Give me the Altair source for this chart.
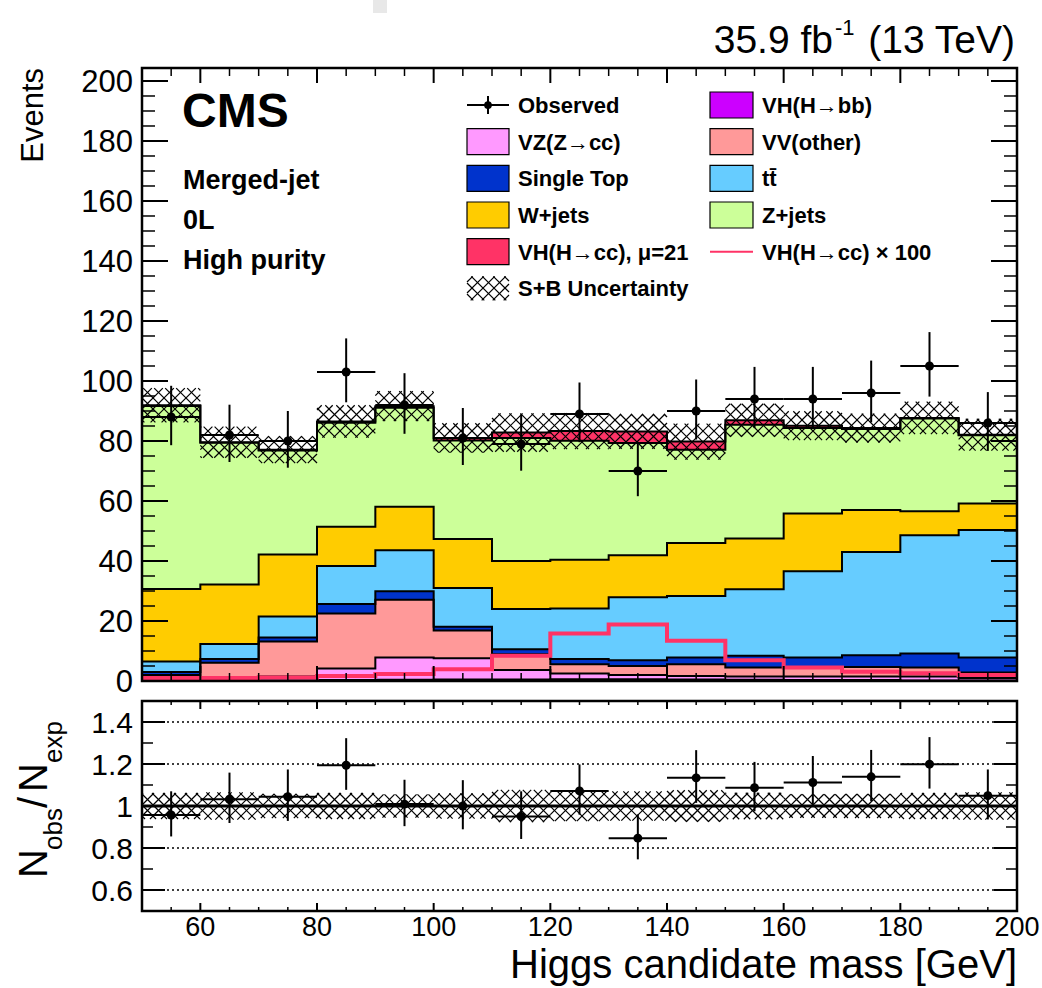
import altair as alt
import numpy as np
import pandas as pd

# ------------------------------------------------------------------ data
bin_edges = [50, 60, 70, 80, 90, 100, 110, 120, 130, 140, 150, 160, 170, 180, 190, 200]

comp_names = ["VH(H→bb)", "VZ(Z→cc)", "VV(other)", "Single Top", "tt̄",
              "W+jets", "Z+jets", "VH(H→cc), μ=21"]
comp_colors = ["#cc00ff", "#ff99ff", "#ff9999", "#0033cc", "#66ccff",
               "#ffcc00", "#ccff99", "#ff3366"]

vh_bb      = [0.1, 0.1, 0.2, 0.3, 0.4, 0.5, 0.5, 0.6, 0.6, 0.5, 0.4, 0.3, 0.3, 0.2, 0.2]
vz_cc      = [0.4, 0.5, 1.3, 3.9, 7.4, 7.1, 3.2, 1.9, 1.4, 1.2, 1.1, 1.2, 1.2, 1.3, 0.8]
vv_other   = [1.5, 5.5, 11.7, 18.3, 19.3, 9.2, 5.2, 3.1, 3.0, 3.9, 3.0, 3.0, 3.2, 3.0, 1.8]
single_top = [1.0, 1.2, 1.3, 3.2, 2.8, 1.3, 1.7, 1.7, 1.9, 2.2, 3.9, 3.3, 3.9, 4.7, 5.0]
ttbar      = [3.5, 5.0, 7.0, 12.6, 13.7, 12.9, 13.4, 16.9, 21.0, 20.5, 22.2, 28.8, 34.4, 39.4, 42.5]
w_jets     = [24.2, 19.9, 20.7, 13.1, 14.5, 16.3, 16.0, 16.2, 14.0, 17.7, 16.9, 19.2, 14.0, 8.0, 8.9]
z_jets     = [61.0, 47.2, 34.6, 34.7, 33.0, 32.9, 41.0, 39.7, 37.4, 31.1, 37.9, 28.5, 27.0, 30.9, 22.7]
vh_cc_mu21 = [0.2, 0.2, 0.3, 0.4, 0.5, 0.8, 1.8, 3.2, 3.9, 2.7, 1.5, 0.8, 0.3, 0.2, 0.2]
comp_values = [vh_bb, vz_cc, vv_other, single_top, ttbar, w_jets, z_jets, vh_cc_mu21]

vh_cc_x100 = [1.0, 1.0, 1.2, 1.7, 2.3, 3.9, 8.4, 15.8, 18.8, 13.4, 6.9, 4.5, 3.1, 2.6, 2.0]

observed   = [88, 82, 80, 103, 92, 81, 79, 89, 70, 90, 94, 94, 96, 105, 86]
obs_err_up = [10.4, 10.1, 10.0, 11.2, 10.6, 10.0, 9.9, 10.5, 9.4, 10.5, 10.7, 10.7, 10.8, 11.3, 10.3]
obs_err_dn = [9.4, 9.0, 8.9, 10.1, 9.6, 9.0, 8.9, 9.4, 8.4, 9.5, 9.7, 9.7, 9.8, 10.2, 9.3]
unc_main   = [5.7, 5.2, 4.5, 5.4, 5.0, 4.9, 6.4, 6.0, 5.8, 6.0, 5.5, 4.8, 4.8, 5.4, 5.3]

ratio        = [0.957, 1.032, 1.044, 1.194, 1.009, 1.000, 0.950, 1.072, 0.847, 1.134,
                1.087, 1.112, 1.139, 1.199, 1.049]
ratio_err_up = [0.113, 0.127, 0.130, 0.129, 0.116, 0.123, 0.120, 0.126, 0.113, 0.132,
                0.123, 0.126, 0.128, 0.129, 0.125]
ratio_err_dn = [0.102, 0.113, 0.115, 0.117, 0.105, 0.111, 0.107, 0.113, 0.101, 0.119,
                0.112, 0.114, 0.116, 0.116, 0.113]
unc_ratio    = [0.062, 0.065, 0.058, 0.062, 0.055, 0.060, 0.077, 0.072, 0.070, 0.075,
                0.063, 0.056, 0.057, 0.062, 0.065]

y_ticks_main = [0, 20, 40, 60, 80, 100, 120, 140, 160, 180, 200]
y_ticks_ratio = [0.6, 0.8, 1.0, 1.2, 1.4]
y_labels_ratio = ["0.6", "0.8", "1", "1.2", "1.4"]
y_minor_ratio = [0.7, 0.9, 1.1, 1.3]
ratio_grid = [0.6, 0.8, 1.2, 1.4]
x_ticks = [60, 80, 100, 120, 140, 160, 180, 200]

legend_col1 = ["Observed", "VZ(Z→cc)", "Single Top", "W+jets", "VH(H→cc), μ=21", "S+B Uncertainty"]
legend_col1_colors = [None, "#ff99ff", "#0033cc", "#ffcc00", "#ff3366", None]
legend_col2 = ["VH(H→bb)", "VV(other)", "tt̄", "Z+jets", "VH(H→cc) × 100"]
legend_col2_colors = ["#cc00ff", "#ff9999", "#66ccff", "#ccff99", None]

# ------------------------------------------------------------------ geometry
FONT = "Liberation Sans"
W = 875          # plot width
HM = 613         # main panel height
RT, RB = 633, 843  # ratio panel top / bottom (pixels from top)
YMAX = 204.33

xs = alt.Scale(domain=[50, 200], nice=False, zero=False)
ys_main = alt.Scale(domain=[0, YMAX], range=[HM, 0], nice=False, zero=False)
ys_ratio = alt.Scale(domain=[0.5, 1.5], range=[RB, RT], nice=False, zero=False)

lo = bin_edges[:-1]
hi = bin_edges[1:]
centers = [(a + b) / 2 for a, b in zip(lo, hi)]


def px_x(x):
    return (x - 50.0) / 150.0 * W


def data_x(p):
    return 50.0 + p * 150.0 / W


def py_main(y):
    return HM - y * HM / YMAX


def data_main(p):
    return (HM - p) * YMAX / HM


def py_ratio(r):
    return RT + (1.5 - r) * (RB - RT)


def data_ratio(p):
    return 1.5 - (p - RT) / (RB - RT)


def hatch_segments(x0, x1, y0, y1, d=11.0):
    segs = []
    kmin = int(np.floor((y0 - x1) / d)); kmax = int(np.ceil((y1 - x0) / d))
    for k in range(kmin, kmax + 1):
        c = k * d
        a = max(x0, y0 - c); b = min(x1, y1 - c)
        if b - a > 0.3:
            segs.append((a, a + c, b, b + c))
    kmin = int(np.floor((y0 + x0) / d)); kmax = int(np.ceil((y1 + x1) / d))
    for k in range(kmin, kmax + 1):
        c = k * d
        a = max(x0, c - y1); b = min(x1, c - y0)
        if b - a > 0.3:
            segs.append((a, c - a, b, c - b))
    return segs


layers = []

# ------------------------------------------------------------------ stack
area_rows = []
cum = np.zeros(15)
for name, vals in zip(comp_names, comp_values):
    v = np.array(vals, float)
    top = cum + v
    for i, e in enumerate(bin_edges):
        j = min(i, 14)
        area_rows.append(dict(comp=name, x=e, y0=cum[j], y1=top[j]))
    cum = top
totals = cum.copy()
area_df = pd.DataFrame(area_rows)

layers.append(
    alt.Chart(area_df).mark_area(interpolate="step-after", strokeWidth=0).encode(
        x=alt.X("x:Q", scale=xs, axis=None),
        y=alt.Y("y1:Q", scale=ys_main, axis=None, stack=None),
        y2="y0:Q",
        color=alt.Color("comp:N", scale=alt.Scale(domain=comp_names, range=comp_colors), legend=None),
    )
)
layers.append(
    alt.Chart(area_df).mark_line(interpolate="step-after", color="black", strokeWidth=2).encode(
        x=alt.X("x:Q", scale=xs, axis=None),
        y=alt.Y("y1:Q", scale=ys_main, axis=None),
        detail="comp:N",
    )
)

# VH(cc) x100 line
x100_df = pd.DataFrame({"x": bin_edges, "y": vh_cc_x100 + [vh_cc_x100[-1]]})
layers.append(
    alt.Chart(x100_df).mark_line(interpolate="step-after", color="#ff3366", strokeWidth=4).encode(
        x=alt.X("x:Q", scale=xs, axis=None),
        y=alt.Y("y:Q", scale=ys_main, axis=None),
    )
)

# main uncertainty hatch
rows = []
for i in range(15):
    x0, x1 = px_x(lo[i]), px_x(hi[i])
    ya, yb = py_main(totals[i] + unc_main[i]), py_main(totals[i] - unc_main[i])
    for (ax, ay, bx, by) in hatch_segments(x0, x1, ya, yb):
        rows.append(dict(x=data_x(ax), y=data_main(ay), x2=data_x(bx), y2=data_main(by)))
layers.append(
    alt.Chart(pd.DataFrame(rows)).mark_rule(color="black", strokeWidth=1.2).encode(
        x=alt.X("x:Q", scale=xs, axis=None), x2="x2:Q",
        y=alt.Y("y:Q", scale=ys_main, axis=None), y2="y2:Q",
    )
)

# observed
obs_df = pd.DataFrame({"c": centers, "lo": lo, "hi": hi, "y": observed,
                       "ylo": [o - d for o, d in zip(observed, obs_err_dn)],
                       "yhi": [o + u for o, u in zip(observed, obs_err_up)]})
layers.append(alt.Chart(obs_df).mark_rule(color="black", strokeWidth=2).encode(
    x=alt.X("c:Q", scale=xs, axis=None), y=alt.Y("ylo:Q", scale=ys_main, axis=None), y2="yhi:Q"))
layers.append(alt.Chart(obs_df).mark_rule(color="black", strokeWidth=2).encode(
    x=alt.X("lo:Q", scale=xs, axis=None), x2="hi:Q", y=alt.Y("y:Q", scale=ys_main, axis=None)))
layers.append(alt.Chart(obs_df).mark_point(filled=True, color="black", size=80, opacity=1).encode(
    x=alt.X("c:Q", scale=xs, axis=None), y=alt.Y("y:Q", scale=ys_main, axis=None)))

# ------------------------------------------------------------------ ratio panel
layers.append(alt.Chart(pd.DataFrame({"v": ratio_grid})).mark_rule(
    color="black", strokeWidth=1.5, strokeDash=[2, 3]).encode(
    y=alt.Y("v:Q", scale=ys_ratio, axis=None), x=alt.value(0), x2=alt.value(W)))

rows = []
for i in range(15):
    x0, x1 = px_x(lo[i]), px_x(hi[i])
    ya, yb = py_ratio(1 + unc_ratio[i]), py_ratio(1 - unc_ratio[i])
    for (ax, ay, bx, by) in hatch_segments(x0, x1, ya, yb):
        rows.append(dict(x=data_x(ax), y=data_ratio(ay), x2=data_x(bx), y2=data_ratio(by)))
layers.append(
    alt.Chart(pd.DataFrame(rows)).mark_rule(color="black", strokeWidth=1.2).encode(
        x=alt.X("x:Q", scale=xs, axis=None), x2="x2:Q",
        y=alt.Y("y:Q", scale=ys_ratio, axis=None), y2="y2:Q",
    )
)
layers.append(alt.Chart(pd.DataFrame({"v": [1.0]})).mark_rule(color="black", strokeWidth=3).encode(
    y=alt.Y("v:Q", scale=ys_ratio, axis=None), x=alt.value(0), x2=alt.value(W)))

rat_df = pd.DataFrame({"c": centers, "lo": lo, "hi": hi, "y": ratio,
                       "ylo": [r - d for r, d in zip(ratio, ratio_err_dn)],
                       "yhi": [r + u for r, u in zip(ratio, ratio_err_up)]})
layers.append(alt.Chart(rat_df).mark_rule(color="black", strokeWidth=2).encode(
    x=alt.X("c:Q", scale=xs, axis=None), y=alt.Y("ylo:Q", scale=ys_ratio, axis=None), y2="yhi:Q"))
layers.append(alt.Chart(rat_df).mark_rule(color="black", strokeWidth=2).encode(
    x=alt.X("lo:Q", scale=xs, axis=None), x2="hi:Q", y=alt.Y("y:Q", scale=ys_ratio, axis=None)))
layers.append(alt.Chart(rat_df).mark_point(filled=True, color="black", size=80, opacity=1).encode(
    x=alt.X("c:Q", scale=xs, axis=None), y=alt.Y("y:Q", scale=ys_ratio, axis=None)))

# ------------------------------------------------------------------ ticks
def yticks(vals, scale, length, width):
    df = pd.DataFrame({"v": vals})
    out = []
    for a, b in ((0, length), (W - length, W)):
        out.append(alt.Chart(df).mark_rule(color="black", strokeWidth=width).encode(
            y=alt.Y("v:Q", scale=scale, axis=None), x=alt.value(a), x2=alt.value(b)))
    return out


def xticks(vals, top, bottom, length, width):
    df = pd.DataFrame({"v": vals})
    out = []
    for a, b in ((top, top + length), (bottom - length, bottom)):
        out.append(alt.Chart(df).mark_rule(color="black", strokeWidth=width).encode(
            x=alt.X("v:Q", scale=xs, axis=None), y=alt.value(a), y2=alt.value(b)))
    return out


y_minor_main = [v for v in range(5, 201, 5) if v % 20]
x_minor = [v for v in range(55, 200, 5) if v % 20]
layers += yticks(y_ticks_main, ys_main, 26, 2)
layers += yticks(y_minor_main, ys_main, 13, 1.5)
layers += xticks(x_ticks, 0, HM, 15, 2)
layers += xticks(x_minor, 0, HM, 8, 1.5)
layers += yticks(y_ticks_ratio, ys_ratio, 23, 2)
layers += yticks(y_minor_ratio, ys_ratio, 11, 1.5)
layers += xticks(x_ticks, RT, RB, 8, 2)
layers += xticks(x_minor, RT, RB, 4, 1.5)

# frames
frame_df = pd.DataFrame({"a": [0]})
layers.append(alt.Chart(frame_df).mark_rect(fillOpacity=0, stroke="black", strokeWidth=2.5).encode(
    x=alt.value(0), x2=alt.value(W), y=alt.value(0), y2=alt.value(HM)))
layers.append(alt.Chart(frame_df).mark_rect(fillOpacity=0, stroke="black", strokeWidth=2.5).encode(
    x=alt.value(0), x2=alt.value(W), y=alt.value(RT), y2=alt.value(RB)))

# ------------------------------------------------------------------ tick labels
layers.append(alt.Chart(pd.DataFrame({"v": y_ticks_main, "t": [str(v) for v in y_ticks_main]})).mark_text(
    align="right", baseline="alphabetic", dy=11, fontSize=31, font=FONT).encode(
    y=alt.Y("v:Q", scale=ys_main, axis=None), x=alt.value(-9), text="t:N"))
layers.append(alt.Chart(pd.DataFrame({"v": y_ticks_ratio, "t": y_labels_ratio})).mark_text(
    align="right", baseline="alphabetic", dy=10.5, fontSize=30, font=FONT).encode(
    y=alt.Y("v:Q", scale=ys_ratio, axis=None), x=alt.value(-9), text="t:N"))
layers.append(alt.Chart(pd.DataFrame({"v": x_ticks, "t": [str(v) for v in x_ticks]})).mark_text(
    align="center", baseline="alphabetic", fontSize=27, font=FONT).encode(
    x=alt.X("v:Q", scale=xs, axis=None), y=alt.value(868), text="t:N"))


# ------------------------------------------------------------------ texts
def txt(s, x, y, size, weight="normal", align="left", angle=0, color="black"):
    kw = dict(align=align, baseline="alphabetic", fontSize=size, font=FONT,
              fontWeight=weight, color=color)
    if angle:
        kw["angle"] = angle
    return alt.Chart(pd.DataFrame({"t": [s]})).mark_text(**kw).encode(
        x=alt.value(x), y=alt.value(y), text="t:N")


layers += [
    txt("CMS", 40, 59, 48, "bold"),
    txt("Merged-jet", 41, 121, 27, "bold"),
    txt("0L", 41, 161, 27, "bold"),
    txt("High purity", 41, 201, 27, "bold"),
    txt("35.9 fb", 691, -15, 39, align="right"),
    txt("-1", 693, -33, 22),
    txt("(13 TeV)", 873, -15, 39, align="right"),
    txt("Higgs candidate mass [GeV]", 875, 910, 40, align="right"),
    txt("Events", -99, 0, 31, align="right", angle=270),
    txt("N", -95, 810, 40, angle=270),
    txt("obs", -80, 782, 26, angle=270),
    txt("/", -95, 740, 40, angle=270),
    txt("N", -95, 724, 40, angle=270),
    txt("exp", -80, 695, 26, angle=270),
]

# faint artifact at top of the reference image
layers.append(alt.Chart(frame_df).mark_rect(color="#e8e8e8").encode(
    x=alt.value(231), x2=alt.value(245), y=alt.value(-68), y2=alt.value(-55)))

# ------------------------------------------------------------------ legend
row_y = [37 + 36.66 * i for i in range(6)]
col_box = [(325, 367), (568, 611)]
col_text = [376, 620]

box_rows, text_rows = [], []
for ci, (labels, cols) in enumerate(((legend_col1, legend_col1_colors), (legend_col2, legend_col2_colors))):
    for ri, (lab, col) in enumerate(zip(labels, cols)):
        yc = row_y[ri]
        text_rows.append(dict(x=col_text[ci], y=yc + 8, t=lab))
        if col is not None:
            box_rows.append(dict(x0=col_box[ci][0], x1=col_box[ci][1], y0=yc - 13, y1=yc + 13, c=col))

layers.append(alt.Chart(pd.DataFrame(box_rows)).mark_rect(stroke="black", strokeWidth=1.2).encode(
    x=alt.X("x0:Q", scale=None, axis=None), x2="x1:Q",
    y=alt.Y("y0:Q", scale=None, axis=None), y2="y1:Q",
    fill=alt.Fill("c:N", scale=None, legend=None)))
layers.append(alt.Chart(pd.DataFrame(text_rows)).mark_text(
    align="left", baseline="alphabetic", fontSize=22, fontWeight="bold", font=FONT).encode(
    x=alt.X("x:Q", scale=None, axis=None), y=alt.Y("y:Q", scale=None, axis=None), text="t:N"))

# observed legend symbol
obs_leg = pd.DataFrame({"x0": [325], "x1": [367], "xc": [346], "y": [row_y[0]],
                        "ya": [row_y[0] - 9], "yb": [row_y[0] + 9]})
layers.append(alt.Chart(obs_leg).mark_rule(color="black", strokeWidth=2).encode(
    x=alt.X("x0:Q", scale=None, axis=None), x2="x1:Q", y=alt.Y("y:Q", scale=None, axis=None)))
layers.append(alt.Chart(obs_leg).mark_rule(color="black", strokeWidth=2).encode(
    x=alt.X("xc:Q", scale=None, axis=None), y=alt.Y("ya:Q", scale=None, axis=None), y2="yb:Q"))
layers.append(alt.Chart(obs_leg).mark_point(filled=True, color="black", size=60, opacity=1).encode(
    x=alt.X("xc:Q", scale=None, axis=None), y=alt.Y("y:Q", scale=None, axis=None)))

# x100 legend line
x100_leg = pd.DataFrame({"x0": [568], "x1": [611], "y": [row_y[4]]})
layers.append(alt.Chart(x100_leg).mark_rule(color="#ff3366", strokeWidth=2).encode(
    x=alt.X("x0:Q", scale=None, axis=None), x2="x1:Q", y=alt.Y("y:Q", scale=None, axis=None)))

# S+B hatch legend symbol
seg = hatch_segments(325, 367, row_y[5] - 12, row_y[5] + 12)
sb_df = pd.DataFrame([dict(x=a, y=b, x2=c, y2=d) for a, b, c, d in seg])
layers.append(alt.Chart(sb_df).mark_rule(color="black", strokeWidth=1.2).encode(
    x=alt.X("x:Q", scale=None, axis=None), x2="x2:Q",
    y=alt.Y("y:Q", scale=None, axis=None), y2="y2:Q"))

# ------------------------------------------------------------------ compose
chart = alt.layer(*layers).resolve_scale(y="independent").properties(
    width=W, height=RB,
    autosize=alt.AutoSizeParams(type="none"),
    padding={"left": 142, "top": 68, "right": 25, "bottom": 77},
).configure_view(strokeWidth=0)

chart.save("out.html", embed_options={"renderer": "svg", "actions": False})
